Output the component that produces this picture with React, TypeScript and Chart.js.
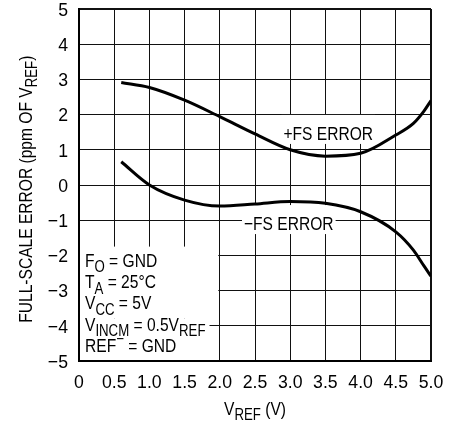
import React, { useEffect, useRef } from "react";
import { Chart, registerables } from "chart.js";

Chart.register(...registerables);

// ---- data ----
const vref = [0.6, 1.0, 1.5, 2.0, 2.5, 3.0, 3.5, 4.0, 4.5, 4.75, 4.9, 5.0];
const plusFsError = [2.91, 2.77, 2.41, 1.94, 1.45, 1.0, 0.82, 0.9, 1.42, 1.75, 2.1, 2.4];
const minusFsError = [0.66, 0.0, -0.43, -0.6, -0.54, -0.47, -0.52, -0.76, -1.33, -1.85, -2.3, -2.59];

const xTickValues = [0, 0.5, 1.0, 1.5, 2.0, 2.5, 3.0, 3.5, 4.0, 4.5, 5.0];
const xTickLabels = ["0", "0.5", "1.0", "1.5", "2.0", "2.5", "3.0", "3.5", "4.0", "4.5", "5.0"];
const yTickValues = [5, 4, 3, 2, 1, 0, -1, -2, -3, -4, -5];
const yTickLabels = ["5", "4", "3", "2", "1", "0", "\u22121", "\u22122", "\u22123", "\u22124", "\u22125"];

type Part = { t: string; sub?: boolean; sup?: boolean };

const xTitle: Part[] = [{ t: "V" }, { t: "REF", sub: true }, { t: " (V)" }];
const yTitle: Part[] = [{ t: "FULL-SCALE ERROR (ppm OF V" }, { t: "REF", sub: true }, { t: ")" }];
const plusLabel: Part[] = [{ t: "+FS ERROR" }];
const minusLabel: Part[] = [{ t: "\u2212FS ERROR" }];
const conditions: Part[][] = [
  [{ t: "F" }, { t: "O", sub: true }, { t: " = GND" }],
  [{ t: "T" }, { t: "A", sub: true }, { t: " = 25\u00B0C" }],
  [{ t: "V" }, { t: "CC", sub: true }, { t: " = 5V" }],
  [{ t: "V" }, { t: "INCM", sub: true }, { t: " = 0.5V" }, { t: "REF", sub: true }],
  [{ t: "REF" }, { t: "\u2212", sup: true }, { t: " = GND" }],
];

const FONT = '"Liberation Sans", Arial, sans-serif';
const SIZE = 19;
const SX = 0.82;
const TICK_SX = 0.93;

function partFont(p: Part, size: number) {
  return `${p.sub || p.sup ? size * 0.85 : size}px ${FONT}`;
}

function richWidth(ctx: CanvasRenderingContext2D, parts: Part[], size: number) {
  let w = 0;
  for (const p of parts) {
    ctx.font = partFont(p, size);
    w += ctx.measureText(p.t).width;
  }
  return w;
}

function drawRich(
  ctx: CanvasRenderingContext2D,
  parts: Part[],
  x: number,
  y: number,
  size: number,
  sx: number,
  align: "left" | "center" | "right"
) {
  const w = richWidth(ctx, parts, size) * sx;
  const start = align === "center" ? x - w / 2 : align === "right" ? x - w : x;
  ctx.save();
  ctx.translate(start, y);
  ctx.scale(sx, 1);
  ctx.textAlign = "left";
  ctx.textBaseline = "alphabetic";
  ctx.fillStyle = "#000";
  let cx = 0;
  for (const p of parts) {
    ctx.font = partFont(p, size);
    const dy = p.sub ? size * 0.28 : p.sup ? -size * 0.42 : 0;
    ctx.fillText(p.t, cx, dy);
    cx += ctx.measureText(p.t).width;
  }
  ctx.restore();
  return w;
}

const annotPlugin = {
  id: "annot",
  beforeDatasetsDraw(chart: any) {
    const { ctx, chartArea: ca, scales } = chart;
    const x = scales.x;
    const y = scales.y;
    ctx.save();
    ctx.fillStyle = "#fff";
    // conditions box
    const condW = Math.max(...conditions.map((c) => richWidth(ctx, c, SIZE) * SX));
    const top = y.getPixelForValue(-1.75);
    const mid = y.getPixelForValue(-3.8);
    ctx.fillRect(ca.left + 1, top, x.getPixelForValue(2.0) - 1.5 - (ca.left + 1), mid - top);
    ctx.fillRect(ca.left + 1, mid, condW + 9, ca.bottom - 1 - mid);
    // curve labels
    const labels: [Part[], number, number][] = [
      [plusLabel, 3.54, 1.28],
      [minusLabel, 2.98, -1.28],
    ];
    for (const [parts, vx, vy] of labels) {
      const w = richWidth(ctx, parts, SIZE) * SX;
      const cx = x.getPixelForValue(vx);
      const by = y.getPixelForValue(vy);
      ctx.fillRect(cx - w / 2 - 2, by - 25, w + 4, 29);
    }
    ctx.restore();
  },
  afterDatasetsDraw(chart: any) {
    const { ctx, chartArea: ca, scales } = chart;
    const x = scales.x;
    const y = scales.y;
    // tick labels
    xTickValues.forEach((v, i) =>
      drawRich(ctx, [{ t: xTickLabels[i] }], x.getPixelForValue(v), ca.bottom + 27, SIZE, TICK_SX, "center")
    );
    yTickValues.forEach((v, i) =>
      drawRich(ctx, [{ t: yTickLabels[i] }], ca.left - 11, y.getPixelForValue(v) + 6.8, SIZE, TICK_SX, "right")
    );
    // curve labels
    drawRich(ctx, plusLabel, x.getPixelForValue(3.54), y.getPixelForValue(1.28), SIZE, SX, "center");
    drawRich(ctx, minusLabel, x.getPixelForValue(2.98), y.getPixelForValue(-1.28), SIZE, SX, "center");
    // conditions
    const b0 = y.getPixelForValue(-2.33);
    const b4 = y.getPixelForValue(-4.74);
    const step = (b4 - b0) / (conditions.length - 1);
    const left = x.getPixelForValue(0.085);
    conditions.forEach((c, i) => drawRich(ctx, c, left, b0 + i * step, SIZE, SX, "left"));

    // axis titles
    const xMid = (ca.left + ca.right) / 2;
    drawRich(ctx, xTitle, xMid, ca.bottom + 54, SIZE, SX, "center");
    ctx.save();
    ctx.translate(32, y.getPixelForValue(-0.12));
    ctx.rotate(-Math.PI / 2);
    drawRich(ctx, yTitle, 0, 0, SIZE, SX, "center");
    ctx.restore();
  },
};

export default function App() {
  const ref = useRef<HTMLCanvasElement | null>(null);
  useEffect(() => {
    const canvas = ref.current;
    if (!canvas) return;
    const edgeWidth = (v: number, a: number) => (Math.abs(v - a) < 1e-6 ? 2 : 1);
    const chart = new Chart(canvas, {
      type: "line",
      data: {
        datasets: [
          {
            label: "+FS ERROR",
            data: vref.map((v, i) => ({ x: v, y: plusFsError[i] })),
            borderColor: "#000",
            borderWidth: 3,
            pointRadius: 0,
            cubicInterpolationMode: "monotone",
            fill: false,
          },
          {
            label: "\u2212FS ERROR",
            data: vref.map((v, i) => ({ x: v, y: minusFsError[i] })),
            borderColor: "#000",
            borderWidth: 3,
            pointRadius: 0,
            cubicInterpolationMode: "monotone",
            fill: false,
          },
        ],
      },
      options: {
        animation: false,
        responsive: false,
        devicePixelRatio: 1,
        layout: { padding: { left: 0, top: 9, right: 29, bottom: 0 } },
        plugins: { legend: { display: false }, tooltip: { enabled: false } },
        scales: {
          x: {
            type: "linear",
            min: 0,
            max: 5,
            afterBuildTicks: (s: any) => {
              s.ticks = xTickValues.map((v) => ({ value: v }));
            },
            afterFit: (s: any) => {
              s.height = 60;
              s.paddingLeft = 0;
              s.paddingRight = 0;
            },
            ticks: { display: false },
            grid: {
              color: "#111",
              drawTicks: false,
              lineWidth: (c: any) => (c.tick ? edgeWidth(c.tick.value, 5) : 1),
            },
            border: { color: "#000", width: 2 },
          },
          y: {
            type: "linear",
            min: -5,
            max: 5,
            afterBuildTicks: (s: any) => {
              s.ticks = [...yTickValues].reverse().map((v) => ({ value: v }));
            },
            afterFit: (s: any) => {
              s.width = 79;
              s.paddingTop = 0;
              s.paddingBottom = 0;
            },
            ticks: { display: false },
            grid: {
              color: "#111",
              drawTicks: false,
              lineWidth: (c: any) => (c.tick ? edgeWidth(c.tick.value, 5) : 1),
            },
            border: { color: "#000", width: 2 },
          },
        },
      },
      plugins: [annotPlugin],
    } as any);
    return () => chart.destroy();
  }, []);
  return (
    <div style={{ position: "absolute", left: 0, top: 0, width: 460, height: 421, background: "#fff" }}>
      <canvas ref={ref} width={460} height={421} style={{ display: "block" }} />
    </div>
  );
}
